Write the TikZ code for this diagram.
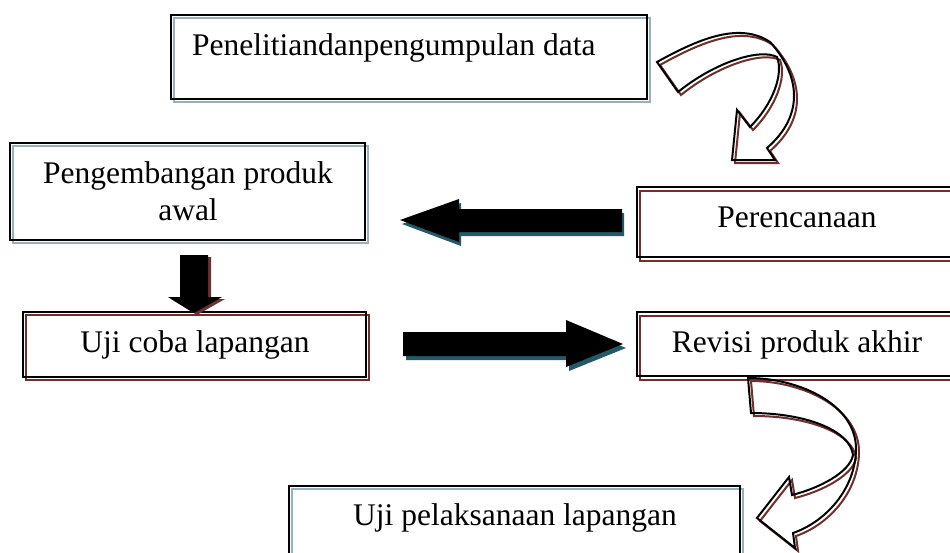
\documentclass[tikz,border=0pt]{standalone}
\usepackage{fontspec}
\setmainfont{Liberation Serif}
\definecolor{sred}{HTML}{6E2F2F}
\definecolor{sblue}{HTML}{98B0BB}
\definecolor{steal}{HTML}{245A68}
\tikzset{
  boxline/.style={draw, line width=2pt},
  shline/.style={line width=2pt},
  txt/.style={anchor=base, inner sep=0pt, font=\fontsize{31.5}{37}\selectfont},
  curveA/.pic={
    \draw[line width=2pt, line join=miter]
      (657,62) .. controls (700,38) and (740,22) .. (770,42)
      .. controls (800,75) and (805,115) .. (767,148)
      -- (775,160) -- (732,160) -- (737,110) -- (750,127)
      .. controls (772,105) and (784,75) .. (777,57)
      .. controls (760,48) and (715,62) .. (678,92) -- cycle;
  },
  curveB/.pic={
    \draw[line width=2pt, line join=miter]
      (748,378) .. controls (800,378) and (857,405) .. (856,450)
      .. controls (855,490) and (825,522) .. (793,533)
      -- (795,548) -- (757,518) -- (789,477) -- (792,495)
      .. controls (820,488) and (850,472) .. (853,455)
      .. controls (850,430) and (805,413) .. (751,413) -- cycle;
  }
}
\begin{document}
\begin{tikzpicture}[x=1pt,y=-1pt]
\clip (0,0) rectangle (950,552);
\fill[white] (0,0) rectangle (950,552);

% ---- box shadows (offset outlines)
\draw[shline, sblue] (174,18) rectangle (650,102);
\draw[shline, sblue] (13,146) rectangle (368,243);
\draw[shline, sred]  (26,315) rectangle (369,380);
\draw[shline, sred]  (640,191) rectangle (961,261);
\draw[shline, sred]  (640,316) rectangle (961,380);
\draw[shline, sblue] (292,489) rectangle (743,563);

% ---- boxes
\draw[boxline] (171,15) rectangle (647,99);
\node[txt, anchor=base west] (t1) at (192,55) {Penelitiandanpengumpulan data};

\draw[boxline] (10,143) rectangle (365,240);
\node[txt] (t2a) at (188,183) {Pengembangan produk};
\node[txt] (t2b) at (188,220) {awal};

\draw[boxline] (23,312) rectangle (366,377);
\node[txt] (t3) at (195,352) {Uji coba lapangan};

\draw[boxline] (637,187) rectangle (958,257);
\node[txt] (t4) at (797,227) {Perencanaan};

\draw[boxline] (637,312) rectangle (958,376);
\node[txt] (t5) at (797,352) {Revisi produk akhir};

\draw[boxline] (289,486) rectangle (740,560);
\node[txt] (t6) at (515,525) {Uji pelaksanaan lapangan};

% ---- block arrows
% left arrow (Perencanaan -> Pengembangan)
\fill[steal, shift={(2,4)}] (400,220) -- (459,199) -- (459,209) -- (622,209) -- (622,232) -- (459,232) -- (459,242) -- cycle;
\fill[black] (400,220) -- (459,199) -- (459,209) -- (622,209) -- (622,232) -- (459,232) -- (459,242) -- cycle;
% right arrow (Uji coba -> Revisi)
\fill[steal, shift={(3,4)}] (403,332) -- (566,332) -- (566,320) -- (623,344) -- (566,367) -- (566,356) -- (403,356) -- cycle;
\fill[black] (403,332) -- (566,332) -- (566,320) -- (623,344) -- (566,367) -- (566,356) -- (403,356) -- cycle;
% down arrow (Pengembangan -> Uji coba)
\fill[sred, shift={(3,2)}] (180,255) -- (208,255) -- (208,297) -- (222,297) -- (194,313) -- (168,297) -- (180,297) -- cycle;
\fill[black] (180,255) -- (208,255) -- (208,297) -- (222,297) -- (194,313) -- (168,297) -- (180,297) -- cycle;

% ---- curved arrows
\pic[color=sred] at (3,3) {curveA};
\pic[color=black] at (0,0) {curveA};
\pic[color=sred] at (3,3) {curveB};
\pic[color=black] at (0,0) {curveB};
\end{tikzpicture}
\end{document}
